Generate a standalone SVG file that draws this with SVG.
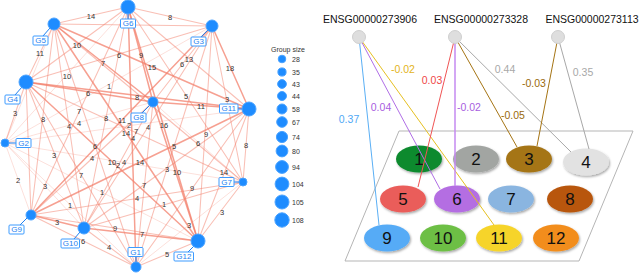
<svg xmlns="http://www.w3.org/2000/svg" width="640" height="273" viewBox="0 0 640 273">
<defs>
<style>
.e line{stroke:#f3806c;stroke-linecap:round}
line.a{stroke-opacity:.75;stroke-width:1.5}
line.b{stroke-opacity:.5;stroke-width:1.05}
line.c{stroke-opacity:.28;stroke-width:.9}
.el{font-family:"Liberation Sans",Arial,sans-serif;font-size:7.5px;fill:#333;text-anchor:middle;dominant-baseline:central}
.nd{fill:#1e8cff;stroke:#4aa3ff;stroke-width:1}
.lb rect{fill:#fff;stroke:#3d9bff;stroke-width:1}
.lb text{font-family:"Liberation Sans",Arial,sans-serif;font-size:8px;fill:#1e7ff0;text-anchor:middle;dominant-baseline:central}
.lk{stroke:#1e7ff0;stroke-width:1}
.lg{font-family:"Liberation Sans",Arial,sans-serif;font-size:7px;fill:#333;dominant-baseline:central}
.gene{font-family:"Liberation Sans",Arial,sans-serif;font-size:10.5px;fill:#111;text-anchor:middle}
.gc{fill:#dedede;stroke:#cfcfcf;stroke-width:1}
.grp text{font-family:"Liberation Sans",Arial,sans-serif;font-size:17px;fill:#111;text-anchor:middle;dominant-baseline:central}
.wl{font-family:"Liberation Sans",Arial,sans-serif;font-size:10.5px;text-anchor:middle;dominant-baseline:central}
</style>
<filter id="sh" x="-20%" y="-20%" width="140%" height="150%"><feDropShadow dx="1" dy="1.5" stdDeviation="0.8" flood-color="#000" flood-opacity="0.35"/></filter>
</defs>
<rect width="640" height="273" fill="#fff"/>

<g id="connectors" class="e">
<line class="c" x1="136" y1="267" x2="5" y2="143"/>
<line class="b" x1="136" y1="267" x2="212" y2="26"/>
<line class="b" x1="136" y1="267" x2="26" y2="82"/>
<line class="b" x1="136" y1="267" x2="54" y2="24"/>
<line class="a" x1="136" y1="267" x2="128" y2="7"/>
<line class="c" x1="136" y1="267" x2="243" y2="182"/>
<line class="b" x1="136" y1="267" x2="153" y2="102"/>
<line class="b" x1="136" y1="267" x2="31" y2="215"/>
<line class="b" x1="136" y1="267" x2="84" y2="228"/>
<line class="b" x1="136" y1="267" x2="249" y2="109"/>
<line class="b" x1="136" y1="267" x2="198" y2="241"/>
<line class="c" x1="5" y1="143" x2="212" y2="26"/>
<line class="b" x1="5" y1="143" x2="26" y2="82"/>
<line class="c" x1="5" y1="143" x2="54" y2="24"/>
<line class="c" x1="5" y1="143" x2="128" y2="7"/>
<line class="c" x1="5" y1="143" x2="243" y2="182"/>
<line class="c" x1="5" y1="143" x2="153" y2="102"/>
<line class="c" x1="5" y1="143" x2="31" y2="215"/>
<line class="c" x1="5" y1="143" x2="84" y2="228"/>
<line class="c" x1="5" y1="143" x2="249" y2="109"/>
<line class="c" x1="5" y1="143" x2="198" y2="241"/>
<line class="b" x1="212" y1="26" x2="26" y2="82"/>
<line class="b" x1="212" y1="26" x2="54" y2="24"/>
<line class="b" x1="212" y1="26" x2="128" y2="7"/>
<line class="b" x1="212" y1="26" x2="243" y2="182"/>
<line class="b" x1="212" y1="26" x2="153" y2="102"/>
<line class="a" x1="212" y1="26" x2="31" y2="215"/>
<line class="b" x1="212" y1="26" x2="84" y2="228"/>
<line class="a" x1="212" y1="26" x2="249" y2="109"/>
<line class="b" x1="212" y1="26" x2="198" y2="241"/>
<line class="b" x1="26" y1="82" x2="54" y2="24"/>
<line class="b" x1="26" y1="82" x2="128" y2="7"/>
<line class="b" x1="26" y1="82" x2="243" y2="182"/>
<line class="a" x1="26" y1="82" x2="153" y2="102"/>
<line class="b" x1="26" y1="82" x2="31" y2="215"/>
<line class="b" x1="26" y1="82" x2="84" y2="228"/>
<line class="a" x1="26" y1="82" x2="249" y2="109"/>
<line class="a" x1="26" y1="82" x2="198" y2="241"/>
<line class="b" x1="54" y1="24" x2="128" y2="7"/>
<line class="b" x1="54" y1="24" x2="243" y2="182"/>
<line class="a" x1="54" y1="24" x2="153" y2="102"/>
<line class="b" x1="54" y1="24" x2="31" y2="215"/>
<line class="b" x1="54" y1="24" x2="84" y2="228"/>
<line class="a" x1="54" y1="24" x2="249" y2="109"/>
<line class="a" x1="54" y1="24" x2="198" y2="241"/>
<line class="b" x1="128" y1="7" x2="243" y2="182"/>
<line class="a" x1="128" y1="7" x2="153" y2="102"/>
<line class="b" x1="128" y1="7" x2="31" y2="215"/>
<line class="b" x1="128" y1="7" x2="84" y2="228"/>
<line class="b" x1="128" y1="7" x2="249" y2="109"/>
<line class="a" x1="128" y1="7" x2="198" y2="241"/>
<line class="c" x1="243" y1="182" x2="153" y2="102"/>
<line class="b" x1="243" y1="182" x2="31" y2="215"/>
<line class="b" x1="243" y1="182" x2="84" y2="228"/>
<line class="b" x1="243" y1="182" x2="249" y2="109"/>
<line class="b" x1="243" y1="182" x2="198" y2="241"/>
<line class="b" x1="153" y1="102" x2="31" y2="215"/>
<line class="b" x1="153" y1="102" x2="84" y2="228"/>
<line class="a" x1="153" y1="102" x2="249" y2="109"/>
<line class="a" x1="153" y1="102" x2="198" y2="241"/>
<line class="a" x1="31" y1="215" x2="84" y2="228"/>
<line class="a" x1="31" y1="215" x2="249" y2="109"/>
<line class="b" x1="31" y1="215" x2="198" y2="241"/>
<line class="b" x1="84" y1="228" x2="249" y2="109"/>
<line class="a" x1="84" y1="228" x2="198" y2="241"/>
<line class="b" x1="249" y1="109" x2="198" y2="241"/>
</g>

<g id="edge-labels">
<text class="el" x="91" y="16">14</text>
<text class="el" x="170" y="17">8</text>
<text class="el" x="40" y="53">11</text>
<text class="el" x="77" y="45">10</text>
<text class="el" x="119" y="55">6</text>
<text class="el" x="141" y="55">9</text>
<text class="el" x="103" y="63">7</text>
<text class="el" x="152" y="67">15</text>
<text class="el" x="189" y="59">13</text>
<text class="el" x="182" y="64">6</text>
<text class="el" x="230" y="68">18</text>
<text class="el" x="67" y="76">10</text>
<text class="el" x="109" y="86">1</text>
<text class="el" x="88" y="93">6</text>
<text class="el" x="137" y="97">8</text>
<text class="el" x="186" y="96">5</text>
<text class="el" x="201" y="106">11</text>
<text class="el" x="227" y="99.5">3</text>
<text class="el" x="15" y="113">3</text>
<text class="el" x="79" y="111">7</text>
<text class="el" x="43" y="119">8</text>
<text class="el" x="106" y="118">8</text>
<text class="el" x="122" y="120">11</text>
<text class="el" x="69" y="126">4</text>
<text class="el" x="79" y="123">4</text>
<text class="el" x="129" y="125">2</text>
<text class="el" x="126" y="133.5">14</text>
<text class="el" x="136" y="131">7</text>
<text class="el" x="133" y="138">4</text>
<text class="el" x="148" y="127">4</text>
<text class="el" x="164" y="125">16</text>
<text class="el" x="206" y="134">9</text>
<text class="el" x="95" y="146">6</text>
<text class="el" x="54" y="155">3</text>
<text class="el" x="92" y="158">4</text>
<text class="el" x="112" y="162">10</text>
<text class="el" x="118" y="165">2</text>
<text class="el" x="124" y="162">4</text>
<text class="el" x="140" y="162">14</text>
<text class="el" x="174" y="146">5</text>
<text class="el" x="198" y="143">6</text>
<text class="el" x="246" y="145">8</text>
<text class="el" x="167" y="169">3</text>
<text class="el" x="177" y="172">10</text>
<text class="el" x="224" y="172">14</text>
<text class="el" x="18" y="180">2</text>
<text class="el" x="45" y="186">3</text>
<text class="el" x="81" y="175">7</text>
<text class="el" x="144" y="185">7</text>
<text class="el" x="192" y="188">9</text>
<text class="el" x="102" y="192">1</text>
<text class="el" x="137" y="198">4</text>
<text class="el" x="70" y="205">1</text>
<text class="el" x="164" y="204">1</text>
<text class="el" x="222" y="212">3</text>
<text class="el" x="57" y="222">3</text>
<text class="el" x="189" y="225">3</text>
<text class="el" x="115" y="228">9</text>
<text class="el" x="142" y="234">7</text>
<text class="el" x="83" y="241">6</text>
<text class="el" x="109" y="247">4</text>
<text class="el" x="167" y="254">5</text>
</g>

<g id="G1" class="lb"><line class="lk" x1="136" y1="257" x2="136" y2="265"/><circle class="nd" cx="136" cy="267" r="5"/><rect x="128" y="247.5" width="15" height="9" rx="1"/><text x="135.5" y="252">G1</text></g>
<g id="G2" class="lb"><line class="lk" x1="9" y1="143" x2="16" y2="143"/><circle class="nd" cx="5" cy="143" r="4"/><rect x="16" y="138.5" width="15" height="9" rx="1"/><text x="23.5" y="143">G2</text></g>
<g id="G3" class="lb"><line class="lk" x1="201" y1="37" x2="208" y2="30"/><circle class="nd" cx="212" cy="26" r="6"/><rect x="191" y="37" width="15" height="9" rx="1"/><text x="198.5" y="41.5">G3</text></g>
<g id="G4" class="lb"><line class="lk" x1="15" y1="95" x2="22" y2="87"/><circle class="nd" cx="26" cy="82" r="7"/><rect x="5" y="95" width="15" height="9" rx="1"/><text x="12.5" y="99.5">G4</text></g>
<g id="G5" class="lb"><line class="lk" x1="43" y1="36" x2="50" y2="28"/><circle class="nd" cx="54" cy="24" r="6"/><rect x="33" y="36" width="15" height="9" rx="1"/><text x="40.5" y="40.5">G5</text></g>
<g id="G6" class="lb"><line class="lk" x1="128" y1="14" x2="128" y2="19"/><circle class="nd" cx="128" cy="7" r="7"/><rect x="120.5" y="19" width="15" height="9" rx="1"/><text x="128" y="23.5">G6</text></g>
<g id="G7" class="lb"><line class="lk" x1="233" y1="182" x2="240" y2="182"/><circle class="nd" cx="243" cy="182" r="4"/><rect x="219" y="177.5" width="15" height="9" rx="1"/><text x="226.5" y="182">G7</text></g>
<g id="G8" class="lb"><line class="lk" x1="142" y1="113" x2="150" y2="105"/><circle class="nd" cx="153" cy="102" r="5"/><rect x="131" y="113" width="15" height="9" rx="1"/><text x="138.5" y="117.5">G8</text></g>
<g id="G9" class="lb"><line class="lk" x1="20" y1="225" x2="27" y2="218"/><circle class="nd" cx="31" cy="215" r="5"/><rect x="9" y="225" width="15" height="9" rx="1"/><text x="16.5" y="229.5">G9</text></g>
<g id="G10" class="lb"><line class="lk" x1="74" y1="239" x2="80" y2="232"/><circle class="nd" cx="84" cy="228" r="6"/><rect x="61" y="239" width="18.5" height="9" rx="1"/><text x="70.3" y="243.5">G10</text></g>
<g id="G11" class="lb"><line class="lk" x1="238" y1="109" x2="242" y2="109"/><circle class="nd" cx="249" cy="109" r="7"/><rect x="219.5" y="104" width="18.5" height="9" rx="1"/><text x="228.8" y="108.5">G11</text></g>
<g id="G12" class="lb"><line class="lk" x1="188" y1="252" x2="194" y2="246"/><circle class="nd" cx="198" cy="241" r="7"/><rect x="174" y="252" width="19.5" height="9" rx="1"/><text x="183.8" y="256.5">G12</text></g>

<g id="legend">
<text class="lg" x="288" y="49" text-anchor="middle">Group size</text>
<circle class="nd" cx="282" cy="59" r="3.8"/><text class="lg" x="292" y="59">28</text>
<circle class="nd" cx="282" cy="72" r="4.1"/><text class="lg" x="292" y="72">35</text>
<circle class="nd" cx="282" cy="84" r="4.4"/><text class="lg" x="292" y="84">43</text>
<circle class="nd" cx="282" cy="96" r="4.5"/><text class="lg" x="292" y="96">44</text>
<circle class="nd" cx="282" cy="109" r="5"/><text class="lg" x="292" y="109">58</text>
<circle class="nd" cx="282" cy="122" r="5.3"/><text class="lg" x="292" y="122">67</text>
<circle class="nd" cx="282" cy="137" r="5.6"/><text class="lg" x="292" y="137">74</text>
<circle class="nd" cx="282" cy="151" r="5.9"/><text class="lg" x="292" y="151">80</text>
<circle class="nd" cx="282" cy="167" r="6.4"/><text class="lg" x="292" y="167">94</text>
<circle class="nd" cx="282" cy="184" r="6.9"/><text class="lg" x="292" y="184">104</text>
<circle class="nd" cx="282" cy="202" r="7"/><text class="lg" x="292" y="202">105</text>
<circle class="nd" cx="282" cy="220" r="7.2"/><text class="lg" x="292" y="220">108</text>
</g>

<g id="plane"><polygon points="399,131 633,131 579,261 345,261" fill="none" stroke="#b5b5b5" stroke-width="1"/></g>

<g id="groups" class="grp">
<g id="grp1"><ellipse cx="419" cy="159" rx="23" ry="13.5" fill="#0b8a2f" filter="url(#sh)"/><text x="419" y="159">1</text></g>
<g id="grp2"><ellipse cx="476" cy="159" rx="23" ry="13.5" fill="#a2a5a2" filter="url(#sh)"/><text x="476" y="159">2</text></g>
<g id="grp3"><ellipse cx="529" cy="159" rx="23" ry="13.5" fill="#a57414" filter="url(#sh)"/><text x="529" y="159">3</text></g>
<g id="grp4"><ellipse cx="586" cy="162" rx="23" ry="13.5" fill="#e2e2e2" filter="url(#sh)"/><text x="586" y="162">4</text></g>
<g id="grp5"><ellipse cx="403" cy="199" rx="23" ry="13.5" fill="#ea5d5a" filter="url(#sh)"/><text x="403" y="199">5</text></g>
<g id="grp6"><ellipse cx="457" cy="199" rx="23" ry="13.5" fill="#b46ee2" filter="url(#sh)"/><text x="457" y="199">6</text></g>
<g id="grp7"><ellipse cx="511" cy="199" rx="23" ry="13.5" fill="#8ab5e0" filter="url(#sh)"/><text x="511" y="199">7</text></g>
<g id="grp8"><ellipse cx="570" cy="199" rx="23" ry="13.5" fill="#b8560c" filter="url(#sh)"/><text x="570" y="199">8</text></g>
<g id="grp9"><ellipse cx="387" cy="238" rx="23" ry="13.5" fill="#56abf6" filter="url(#sh)"/><text x="387" y="238">9</text></g>
<g id="grp10"><ellipse cx="443" cy="238" rx="23" ry="13.5" fill="#6dbf45" filter="url(#sh)"/><text x="443" y="238">10</text></g>
<g id="grp11"><ellipse cx="499" cy="238" rx="23" ry="13.5" fill="#f6d42c" filter="url(#sh)"/><text x="499" y="238">11</text></g>
<g id="grp12"><ellipse cx="556" cy="238" rx="23" ry="13.5" fill="#f28d1c" filter="url(#sh)"/><text x="556" y="238">12</text></g>
</g>

<g id="gene-links" fill="none" stroke-width="1">
<line x1="359" y1="37" x2="379" y2="225" stroke="#5aaff5"/>
<line x1="359" y1="37" x2="440" y2="189" stroke="#b06ee6"/>
<line x1="359" y1="37" x2="494" y2="225" stroke="#e6c021"/>
<line x1="455" y1="37" x2="418" y2="187" stroke="#f05454"/>
<line x1="455" y1="37" x2="455" y2="186" stroke="#c58af0" stroke-width="1.5"/>
<line x1="455" y1="37" x2="517" y2="147" stroke="#a57414"/>
<line x1="455" y1="37" x2="571" y2="152" stroke="#a8a8a8"/>
<line x1="558" y1="37" x2="537" y2="146" stroke="#a57414"/>
<line x1="558" y1="37" x2="589" y2="149" stroke="#a8a8a8"/>
</g>

<g id="genes">
<g id="gene1"><text class="gene" x="370" y="23">ENSG00000273906</text><circle class="gc" cx="359" cy="37" r="6.5"/></g>
<g id="gene2"><text class="gene" x="481" y="23">ENSG00000273328</text><circle class="gc" cx="455" cy="37" r="6.5"/></g>
<g id="gene3"><text class="gene" x="592" y="23">ENSG00000273113</text><circle class="gc" cx="558" cy="37" r="6.5"/></g>
</g>

<g id="weights">
<text class="wl" x="349" y="119" fill="#4fa8f5">0.37</text>
<text class="wl" x="381" y="107" fill="#a860e0">0.04</text>
<text class="wl" x="403" y="69" fill="#e3b41a">-0.02</text>
<text class="wl" x="432" y="80" fill="#f04848">0.03</text>
<text class="wl" x="469" y="107" fill="#a860e0">-0.02</text>
<text class="wl" x="513" y="115" fill="#9a6a0c">-0.05</text>
<text class="wl" x="505" y="69" fill="#a8a8a8">0.44</text>
<text class="wl" x="534" y="83" fill="#9a6a0c">-0.03</text>
<text class="wl" x="583" y="72" fill="#a8a8a8">0.35</text>
</g>
</svg>
